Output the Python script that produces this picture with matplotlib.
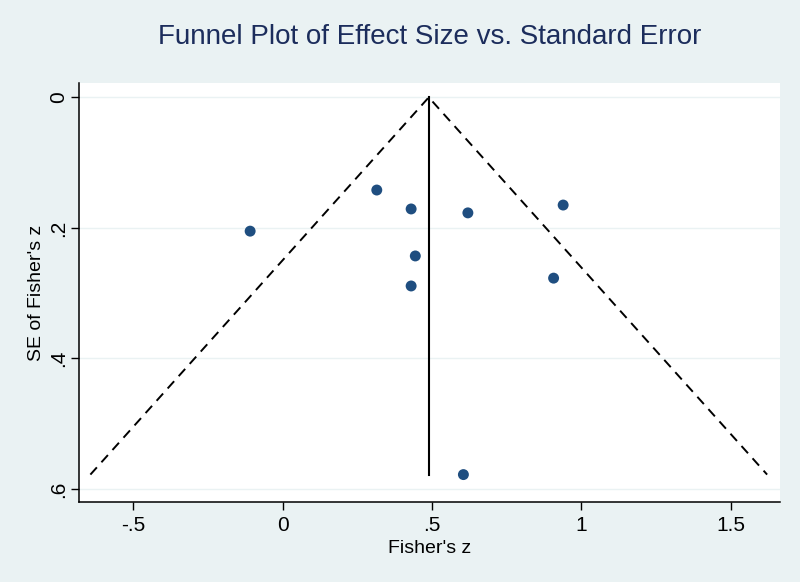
import numpy as np
import matplotlib.pyplot as plt

# study-level effects (Fisher's z) and their standard errors
fisher_z = [-0.109, 0.315, 0.430, 0.620, 0.939, 0.444, 0.430, 0.907, 0.605]
se_z = [0.205, 0.142, 0.171, 0.177, 0.165, 0.243, 0.289, 0.277, 0.578]
pooled_z = 0.489

x_ticks = [-0.5, 0, 0.5, 1, 1.5]
x_tick_labels = ['-.5', '0', '.5', '1', '1.5']
y_ticks = [0, 0.2, 0.4, 0.6]
y_tick_labels = ['0', '.2', '.4', '.6']

bg = '#eaf2f3'
navy = '#1f4e80'

plt.rcParams['font.family'] = ['Liberation Sans', 'DejaVu Sans']

fig = plt.figure(figsize=(8, 5.82), dpi=100, facecolor=bg)
ax = fig.add_axes([79 / 800, 1 - 502 / 582, (780 - 79) / 800, (502 - 83) / 582])
ax.set_facecolor('white')

# pseudo 95% confidence limits
se_max = max(se_z)
ax.plot([pooled_z - 1.96 * se_max, pooled_z, pooled_z + 1.96 * se_max], [se_max, 0, se_max],
        color='black', lw=1.4, dashes=(5, 3.5), zorder=2)
ax.plot([pooled_z, pooled_z], [0, se_max], color='black', lw=1.5, zorder=2)

ax.scatter(fisher_z, se_z, s=62, color=navy, zorder=3, edgecolors='none')

ax.set_xlim(-0.682, 1.665)
ax.set_ylim(0.62, -0.022)

for yt in y_ticks:
    ax.axhline(yt, color=bg, lw=1.0, zorder=1)

ax.set_xticks(x_ticks)
ax.set_xticklabels(x_tick_labels, fontsize=15)
ax.set_yticks(y_ticks)
ax.set_yticklabels(y_tick_labels, fontsize=15, rotation=90, va='center')
ax.tick_params(direction='out', length=6, width=1, color='black', pad=4)
ax.tick_params(axis='y', pad=2)

for side in ['top', 'right']:
    ax.spines[side].set_visible(False)
for side in ['left', 'bottom']:
    ax.spines[side].set_linewidth(1.1)

ax.set_xlabel("Fisher's z", fontsize=14, labelpad=4)
ax.set_ylabel("SE of Fisher's z", fontsize=14, labelpad=3)

fig.text(430 / 800, 1 - 37 / 582, 'Funnel Plot of Effect Size vs. Standard Error',
         ha='center', va='center', fontsize=20, color='#1c2d5c')

plt.savefig('out.png', dpi=100, facecolor=bg)
